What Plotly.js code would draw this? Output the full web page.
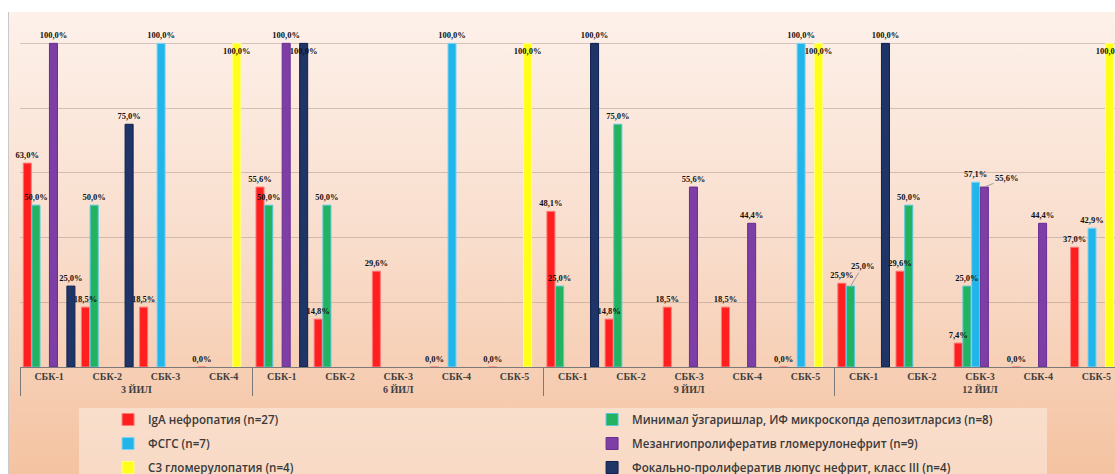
<!DOCTYPE html>
<html><head><meta charset="utf-8">
<script src="https://cdn.plot.ly/plotly-3.0.1.min.js"></script>
<style>
html,body{margin:0;padding:0;background:#fff;overflow:hidden;width:1115px;height:474px;}
#frame{position:absolute;left:8px;top:12px;width:1107px;height:462px;background:linear-gradient(to bottom,#fdf1ea 0%,#f9ddcc 50%,#f4c3a1 100%);border-left:1px solid #c9c9c9;box-sizing:border-box;}
#chart{position:absolute;left:0;top:0;width:1115px;height:474px;}
</style></head><body>
<div id="frame"></div><div id="chart"></div>
<script>
const groups = ['3 ЙИЛ','3 ЙИЛ','3 ЙИЛ','3 ЙИЛ',
  '6 ЙИЛ','6 ЙИЛ','6 ЙИЛ','6 ЙИЛ','6 ЙИЛ',
  '9 ЙИЛ','9 ЙИЛ','9 ЙИЛ','9 ЙИЛ','9 ЙИЛ',
  '12 ЙИЛ','12 ЙИЛ','12 ЙИЛ','12 ЙИЛ','12 ЙИЛ'];
const subcats = ['СБК-1','СБК-2','СБК-3','СБК-4',
  'СБК-1','СБК-2','СБК-3','СБК-4','СБК-5',
  'СБК-1','СБК-2','СБК-3','СБК-4','СБК-5',
  'СБК-1','СБК-2','СБК-3','СБК-4','СБК-5'];

const igaName = 'IgA нефропатия (n=27)';
const minimalName = 'Минимал ўзгаришлар, ИФ микроскопда депозитларсиз (n=8)';
const fsgsName = 'ФСГС (n=7)';
const mezangName = 'Мезангиопролифератив гломерулонефрит (n=9)';
const c3Name = 'С3 гломерулопатия (n=4)';
const fokalName = 'Фокально-пролифератив люпус нефрит, класс III (n=4)';

const iga     = [63.0, 18.5, 18.5, 0.0,  55.6, 14.8, 29.6, 0.0, 0.0,  48.1, 14.8, 18.5, 18.5, 0.0,  25.9, 29.6, 7.4, 0.0, 37.0];
const minimal = [50.0, 50.0, null, null, 50.0, 50.0, null, null, null, 25.0, 75.0, null, null, null, 25.0, 50.0, 25.0, null, null];
const fsgs    = [null, null, 100.0, null, null, null, null, 100.0, null, null, null, null, null, 100.0, null, null, 57.1, null, 42.9];
const mezang  = [100.0, null, null, null, 100.0, null, null, null, null, null, null, 55.6, 44.4, null, null, null, 55.6, 44.4, null];
const c3      = [null, null, null, 100.0, null, null, null, null, 100.0, null, null, null, null, 100.0, null, null, null, null, 100.0];
const fokal   = [25.0, 75.0, null, null, 100.0, null, null, null, null, 100.0, null, null, null, null, 100.0, null, null, null, null];

// label placement tweaks (point indices)
const c3InsideLabels = [3, 8, 13, 18];
const fokalInsideLabels = [4];
const minimalCallout = 14;   // label moved with leader line
const mezangCallout = 16;    // label moved with leader line

const labelFont = {family:'Liberation Serif', size:8.5, color:'#111', weight:'bold'};
const fmt = v => v.toFixed(1).replace('.', ',') + '%';

function bars(name, y, color, lineColor, legend) {
  return {
    type:'bar', name:name, x:[groups, subcats], y:y, offsetgroup:name,
    marker:{color:color, line:{color:lineColor, width:1}},
    textposition:'none', legend:legend, legendgroup:name, hoverinfo:'skip'
  };
}
function labels(name, y, insideIdx, skipIdx) {
  const pos = y.map((v,i) => insideIdx && insideIdx.includes(i) ? 'inside' : 'outside');
  return {
    type:'bar', name:name + ' labels', x:[groups, subcats], y:y, offsetgroup:name,
    marker:{color:'rgba(0,0,0,0)', line:{width:0}}, showlegend:false,
    texttemplate:y.map((v,i) => (v === null || (skipIdx && skipIdx.includes(i))) ? '' : '%{y:.1f}%'),
    textposition:pos, insidetextanchor:'end', textangle:0, constraintext:'none', cliponaxis:false,
    textfont:labelFont, outsidetextfont:labelFont, insidetextfont:labelFont, hoverinfo:'skip'
  };
}

const data = [
  bars(igaName, iga, '#ff1f1f', '#ff7a7a', 'legend'),
  bars(minimalName, minimal, '#23b25f', '#55c8dc', 'legend2'),
  bars(fsgsName, fsgs, '#22b5ea', '#7fd4f5', 'legend'),
  bars(mezangName, mezang, '#7d3fa5', '#6a2d92', 'legend2'),
  bars(c3Name, c3, '#ffff1a', '#ffff80', 'legend'),
  bars(fokalName, fokal, '#1f3568', '#0f2050', 'legend2'),
  labels(igaName, iga),
  labels(minimalName, minimal, null, [minimalCallout]),
  labels(fsgsName, fsgs),
  labels(mezangName, mezang, null, [mezangCallout]),
  labels(c3Name, c3, c3InsideLabels),
  labels(fokalName, fokal, fokalInsideLabels)
];

const legendFont = {family:'Open Sans', size:11.6, color:'#3a3a3a', weight:600};

const callout = (idx, val, xshift, ax, ay) => ({
  xref:'x', yref:'y', x:idx, y:val, xshift:xshift, text:fmt(val), font:labelFont,
  showarrow:true, arrowhead:0, arrowwidth:0.8, arrowcolor:'#8a8a8a', ax:ax, ay:ay, standoff:1
});

const layout = {
  width:1115, height:474,
  margin:{l:20, r:0, t:11, b:107, autoexpand:false},
  paper_bgcolor:'rgba(0,0,0,0)', plot_bgcolor:'rgba(0,0,0,0)',
  barmode:'group', bargap:0.1, bargroupgap:0.08,
  separators:', ',
  xaxis:{type:'multicategory', range:[-0.5,18.32], showline:true, linecolor:'#7a7a7a', linewidth:1,
    ticks:'', showdividers:true, dividercolor:'#7a7a7a', dividerwidth:1, showgrid:false, automargin:false,
    tickfont:{family:'Liberation Serif', size:10, color:'#404040', weight:'bold'}},
  yaxis:{range:[0,110], tickvals:[0,20,40,60,80,100], showticklabels:false, automargin:false,
    gridcolor:'rgba(150,130,120,0.4)', gridwidth:1, zeroline:false, showline:false},
  legend:{xref:'container', yref:'container', x:0.0969, y:0.1456, xanchor:'left', yanchor:'top',
    bgcolor:'rgba(0,0,0,0)', tracegroupgap:5, font:legendFont},
  legend2:{xref:'container', yref:'container', x:0.531, y:0.1456, xanchor:'left', yanchor:'top',
    bgcolor:'rgba(0,0,0,0)', tracegroupgap:5, font:legendFont},
  shapes:[{type:'rect', xref:'paper', yref:'paper', x0:0.0539, x1:0.9379, y0:-0.3006, y1:-0.1152,
    fillcolor:'rgba(255,255,255,0.38)', line:{width:0}, layer:'below'}],
  annotations:[
    callout(minimalCallout, minimal[minimalCallout], -13, 12, -20),
    callout(mezangCallout, mezang[mezangCallout], 4.5, 22, -9)
  ],
  showlegend:true
};

Plotly.newPlot('chart', data, layout, {displayModeBar:false, staticPlot:true});
</script>
</body></html>
